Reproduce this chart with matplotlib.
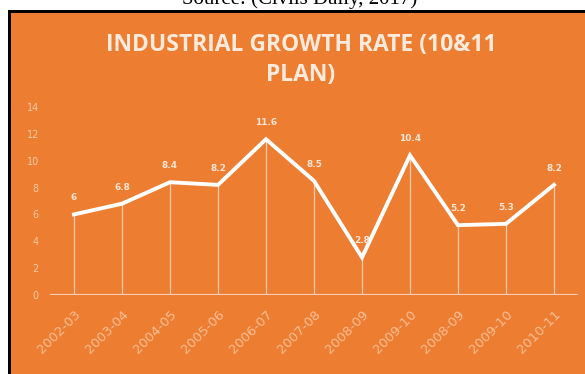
import matplotlib
matplotlib.use("Agg")
import matplotlib.pyplot as plt
from matplotlib.patches import Rectangle

categories = ["2002-03", "2003-04", "2004-05", "2005-06", "2006-07", "2007-08",
              "2008-09", "2009-10", "2008-09", "2009-10", "2010-11"]
values = [6, 6.8, 8.4, 8.2, 11.6, 8.5, 2.8, 10.4, 5.2, 5.3, 8.2]
value_labels = ["6", "6.8", "8.4", "8.2", "11.6", "8.5", "2.8", "10.4", "5.2", "5.3", "8.2"]
y_ticks = [0, 2, 4, 6, 8, 10, 12, 14]
title = "INDUSTRIAL GROWTH RATE (10&11\nPLAN)"
source = "Source: (Civils Daily, 2017)"

W, H = 585, 374
fig = plt.figure(figsize=(W / 100, H / 100), dpi=100)
fig.patch.set_facecolor("white")

orange = "#ED7D31"
bg = fig.add_axes([0, 0, 1, 1], zorder=-10)
bg.set_xlim(0, W)
bg.set_ylim(H, 0)
bg.axis("off")
bg.add_patch(Rectangle((8, 10), W - 8, H - 10, facecolor="black", edgecolor="none"))
bg.add_patch(Rectangle((11, 13), W - 11, H - 13, facecolor=orange, edgecolor="none"))
bg.text(300, 4, source, ha="center", va="baseline", fontsize=15,
        family="Liberation Serif", color="black", clip_on=False)
bg.text(301, 60, title, ha="center", va="center", fontsize=16.5,
        family="Open Sans", fontweight="bold", color="#FCEBDD", linespacing=1.35)

ax = fig.add_axes([50 / W, (H - 295) / H, 528 / W, 188 / H])
ax.set_facecolor("none")
x = list(range(len(categories)))
ax.vlines(x, 0, values, colors="#F8D9C0", linewidth=0.9, alpha=0.9, zorder=2)
ax.plot(x, values, color="white", linewidth=2.8, solid_joinstyle="miter", zorder=3)
for xi, v, lab in zip(x, values, value_labels):
    ax.text(xi, v + 0.9, lab, ha="center", va="bottom", fontsize=6.5,
            fontweight="bold", color="#FBE6D6", family="DejaVu Sans")

ax.axhline(0, color="#F6CDAE", linewidth=1.6, zorder=2)
ax.set_xlim(-0.5, len(categories) - 0.5)
ax.set_ylim(0, 14)
ax.set_yticks(y_ticks)
ax.set_yticklabels([str(t) for t in y_ticks], fontsize=7, color="#F7C9A8")
ax.set_xticks(x)
ax.set_xticklabels(categories, rotation=45, ha="right", rotation_mode="anchor",
                   fontsize=9.5, color="#F6BF98", family="DejaVu Sans")
ax.tick_params(axis="both", length=0)
ax.tick_params(axis="y", pad=8)
ax.tick_params(axis="x", pad=9)
for s in ax.spines.values():
    s.set_visible(False)

fig.savefig("out.png", dpi=100, facecolor=fig.get_facecolor())
